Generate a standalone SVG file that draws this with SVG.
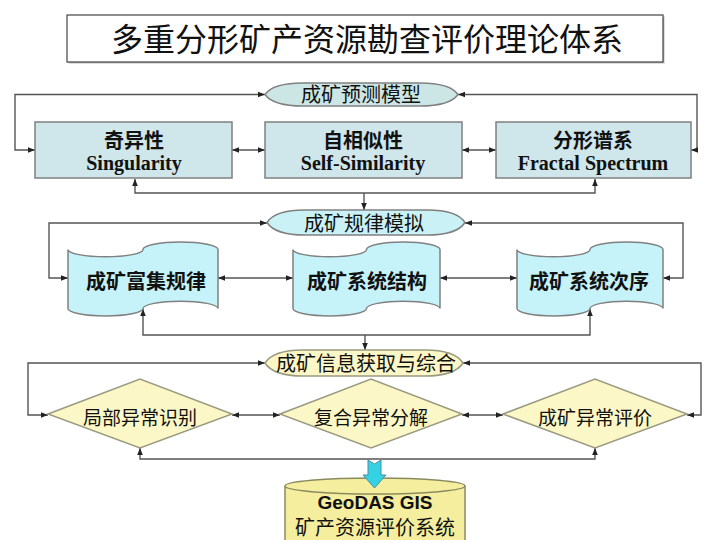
<svg xmlns="http://www.w3.org/2000/svg" width="711" height="540" viewBox="0 0 711 540">
<style>
.cjk{font-family:"Noto Sans CJK SC",sans-serif;}
.bold{font-weight:bold;}
.lat{font-family:"Liberation Serif","Noto Sans CJK SC",serif;font-weight:bold;}
.sans{font-family:"Liberation Sans","Noto Sans CJK SC",sans-serif;font-weight:bold;}
.box1{fill:#cfe6ea;stroke:#808080;stroke-width:1.5;}
.lens1{fill:#cce6e6;stroke:#808080;stroke-width:1.5;}
.wave{fill:#c6f3f9;stroke:#808080;stroke-width:1.5;}
.yel{fill:#fcf7c6;stroke:#9a9a80;stroke-width:1.5;}
.conn{fill:none;stroke:#555;stroke-width:1.4;}
text{fill:#111;text-anchor:middle;}
</style>
<defs>
<marker id="ah" viewBox="0 0 10 10" refX="10" refY="5" markerWidth="7" markerHeight="7" markerUnits="userSpaceOnUse" orient="auto-start-reverse">
<path d="M0,1 L10,5 L0,9 z" fill="#222"/>
</marker>
</defs>
<rect width="711" height="540" fill="#fff"/>

<g id="title">
<rect x="68.5" y="16.5" width="596" height="47" fill="#bdbdbd"/>
<rect x="67" y="15" width="596" height="47" fill="#fff" stroke="#444" stroke-width="1.2"/>
<text class="cjk" x="367" y="51" font-size="32">多重分形矿产资源勘查评价理论体系</text>
</g>

<g id="connectors">
<path class="conn" d="M265,94.5 H15 V150 H35" marker-start="url(#ah)" marker-end="url(#ah)"/>
<path class="conn" d="M458,94.5 H697 V150 H691" marker-start="url(#ah)" marker-end="url(#ah)"/>
<path class="conn" d="M232,150 H265" marker-start="url(#ah)" marker-end="url(#ah)"/>
<path class="conn" d="M462,150 H496" marker-start="url(#ah)" marker-end="url(#ah)"/>
<path class="conn" d="M135,179 V193 H595 V179" marker-start="url(#ah)" marker-end="url(#ah)"/>
<path class="conn" d="M364,193 V210" marker-end="url(#ah)"/>

<path class="conn" d="M267,223 H49 V278 H68" marker-start="url(#ah)" marker-end="url(#ah)"/>
<path class="conn" d="M465,223 H683 V278 H663" marker-start="url(#ah)" marker-end="url(#ah)"/>
<path class="conn" d="M218,278 H293" marker-start="url(#ah)" marker-end="url(#ah)"/>
<path class="conn" d="M440,278 H517" marker-start="url(#ah)" marker-end="url(#ah)"/>
<path class="conn" d="M143,309 V335 H590 V309" marker-start="url(#ah)" marker-end="url(#ah)"/>
<path class="conn" d="M365,335 V350" marker-end="url(#ah)"/>

<path class="conn" d="M265,363 H28 V415 H48" marker-start="url(#ah)" marker-end="url(#ah)"/>
<path class="conn" d="M463,363 H701 V415 H687" marker-start="url(#ah)" marker-end="url(#ah)"/>
<path class="conn" d="M232,415 H280" marker-start="url(#ah)" marker-end="url(#ah)"/>
<path class="conn" d="M462,415 H503" marker-start="url(#ah)" marker-end="url(#ah)"/>
<path class="conn" d="M140,448 V459 H595 V448" marker-start="url(#ah)" marker-end="url(#ah)"/>
</g>

<g id="predict-model">
<path class="lens1" d="M265,94.5 C271,86 284,83 303,83 H420 C439,83 452,86 458,94.5 C452,103 439,106 420,106 H303 C284,106 271,103 265,94.5 Z"/>
<text class="cjk" x="361" y="102" font-size="20">成矿预测模型</text>
</g>

<g id="singularity">
<rect class="box1" x="35" y="122" width="197" height="56"/>
<text class="cjk bold" x="134" y="148" font-size="20">奇异性</text>
<text class="lat" x="134" y="170" font-size="20">Singularity</text>
</g>
<g id="self-similarity">
<rect class="box1" x="265" y="122" width="197" height="56"/>
<text class="cjk bold" x="363" y="148" font-size="20">自相似性</text>
<text class="lat" x="363" y="170" font-size="20">Self-Similarity</text>
</g>
<g id="fractal-spectrum">
<rect class="box1" x="496" y="122" width="195" height="56"/>
<text class="cjk bold" x="593" y="148" font-size="20">分形谱系</text>
<text class="lat" x="593" y="170" font-size="20">Fractal Spectrum</text>
</g>

<g id="law-simulation">
<path d="M267,222.5 C273,213 286,210 305,210 H427 C446,210 459,213 465,222.5 C459,232 446,235 427,235 H305 C286,235 273,232 267,222.5 Z" fill="#c9f1f6" stroke="#808080" stroke-width="1.5"/>
<text class="cjk" x="364" y="231" font-size="20">成矿规律模拟</text>
</g>

<g id="enrichment-law">
<path class="wave" d="M68,249.4 A37.5,7.4 0 0 0 143,249.4 A37.5,7.4 0 0 1 218,249.4 L218,308.6 A37.5,7.4 0 0 0 143,308.6 A37.5,7.4 0 0 1 68,308.6 Z"/>
<text class="cjk bold" x="146" y="289" font-size="20">成矿富集规律</text>
</g>
<g id="system-structure">
<path class="wave" d="M293,249.4 A36.75,7.4 0 0 0 366.5,249.4 A36.75,7.4 0 0 1 440,249.4 L440,308.6 A36.75,7.4 0 0 0 366.5,308.6 A36.75,7.4 0 0 1 293,308.6 Z"/>
<text class="cjk bold" x="367" y="289" font-size="20">成矿系统结构</text>
</g>
<g id="system-order">
<path class="wave" d="M517,249.4 A36.5,7.4 0 0 0 590,249.4 A36.5,7.4 0 0 1 663,249.4 L663,308.6 A36.5,7.4 0 0 0 590,308.6 A36.5,7.4 0 0 1 517,308.6 Z"/>
<text class="cjk bold" x="589" y="289" font-size="20">成矿系统次序</text>
</g>

<g id="info-acquisition">
<path class="yel" d="M265,363 C271,353.5 284,350 303,350 H425 C444,350 457,353.5 463,363 C457,372.5 444,376 425,376 H303 C284,376 271,372.5 265,363 Z"/>
<text class="cjk" x="366" y="371" font-size="20">成矿信息获取与综合</text>
</g>

<g id="local-anomaly">
<path class="yel" d="M48,414 L140,379 L232,414 L140,448 Z"/>
<text class="cjk" x="140" y="425" font-size="19">局部异常识别</text>
</g>
<g id="composite-anomaly">
<path class="yel" d="M280,414 L371,379 L462,414 L371,448 Z"/>
<text class="cjk" x="371" y="425" font-size="19">复合异常分解</text>
</g>
<g id="anomaly-evaluation">
<path class="yel" d="M503,414 L595,379 L687,414 L595,448 Z"/>
<text class="cjk" x="595" y="425" font-size="19">成矿异常评价</text>
</g>

<g id="geodas">
<path d="M285,486 V545 H465 V486" fill="#f4ee9e" stroke="#8a8a60" stroke-width="1.5"/>
<ellipse cx="375" cy="486" rx="90" ry="8" fill="#f4ee9e" stroke="#8a8a60" stroke-width="1.5"/>
<text class="sans" x="375" y="509" font-size="19">GeoDAS GIS</text>
<text class="cjk" x="375" y="535" font-size="20">矿产资源评价系统</text>
</g>

<g id="output-arrow">
<path d="M368,460 L374.5,464 L381,460 V475 H386 L374.5,488 L363,475 H368 Z" fill="#33d3e3" stroke="#4a8ea0" stroke-width="1"/>
</g>
</svg>
